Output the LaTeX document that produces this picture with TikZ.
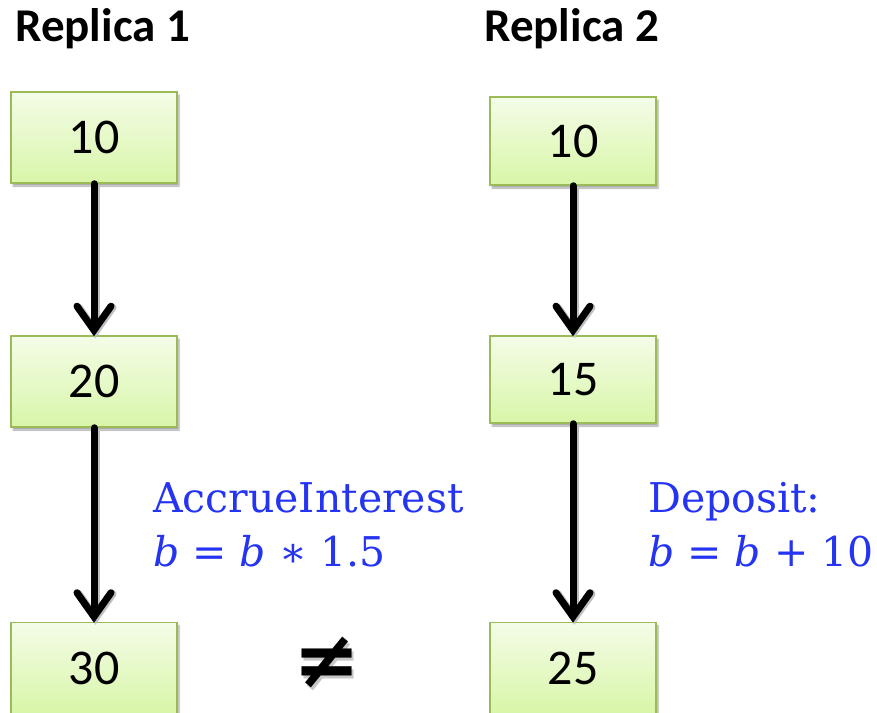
\documentclass[tikz,border=0pt]{standalone}
\usepackage{fontspec}
\usetikzlibrary{arrows.meta,shadows.blur}
\newfontfamily\calibri{Carlito}
\newfontfamily\symfont{DejaVu Sans}
\newfontfamily\opfont{DejaVu Serif}
\definecolor{boxedge}{RGB}{155,187,89}
\definecolor{boxtop}{RGB}{244,252,232}
\definecolor{boxbot}{RGB}{216,246,168}
\definecolor{opblue}{RGB}{36,52,242}
\newcommand{\vb}{{\itshape b}}
% a glyph with a soft grey copy set behind it, down and to the right
\newcommand{\shadowed}[1]{\rlap{\kern2.5pt\raisebox{-3pt}{\color{black!22}#1}}#1}
\tikzset{
  valbox/.style={draw=boxedge, line width=1.5pt, top color=boxtop, bottom color=boxbot,
    minimum width=166pt, inner sep=0pt,
    font=\calibri\fontsize{50}{56}\selectfont,
    blur shadow={shadow xshift=2pt, shadow yshift=-3pt, shadow blur steps=6, shadow opacity=35}},
  flow/.style={line width=7pt, line cap=round, line join=round,
    -{Straight Barb[length=24pt,width=34pt,line cap=round,line join=miter]},
    preaction={draw=black!25, line width=8pt, transform canvas={xshift=1.5pt,yshift=-2pt}}},
  title/.style={anchor=base west, inner sep=0pt, font=\calibri\bfseries\fontsize{47}{54}\selectfont},
  oplabel/.style={anchor=base west, inner sep=0pt, text=opblue, font=\opfont\fontsize{41}{50}\selectfont},
  neqsign/.style={inner sep=0pt, font=\symfont\bfseries\fontsize{80}{80}\selectfont}
}
\begin{document}
\begin{tikzpicture}[x=1pt,y=-1pt]
\useasboundingbox (0,0) rectangle (877,712);
% column titles
\node[title] (t1) at (15,41) {Replica 1};
\node[title] (t2) at (484,41) {Replica 2};
% replica 1 states
\node[valbox, minimum height=91pt] (a1) at (94,137.5) {10};
\node[valbox, minimum height=91pt] (a2) at (94,381.5) {20};
\node[valbox, minimum height=91pt] (a3) at (94,668) {30};
% replica 2 states
\node[valbox, minimum height=88pt] (b1) at (573,141) {10};
\node[valbox, minimum height=87pt] (b2) at (573,379.5) {15};
\node[valbox, minimum height=91pt] (b3) at (573,668) {25};
% transitions
\draw[flow] (a1.south) -- ([yshift=-1pt]a2.north);
\draw[flow] (a2.south) -- ([yshift=-1pt]a3.north);
\draw[flow] (b1.south) -- ([yshift=-1pt]b2.north);
\draw[flow] (b2.south) -- ([yshift=-1pt]b3.north);
% operations
\node[oplabel] (op1) at (153,512) {AccrueInterest};
\node[oplabel] (op1m) at (153,566) {\vb{} = \vb{} ∗ 1.5};
\node[oplabel] (op2) at (648,512) {Deposit:};
\node[oplabel] (op2m) at (648,566) {\vb{} = \vb{} + 10};
% final states differ
\node[neqsign] (ne) at (327,664) {\shadowed{≠}};
\end{tikzpicture}
\end{document}
